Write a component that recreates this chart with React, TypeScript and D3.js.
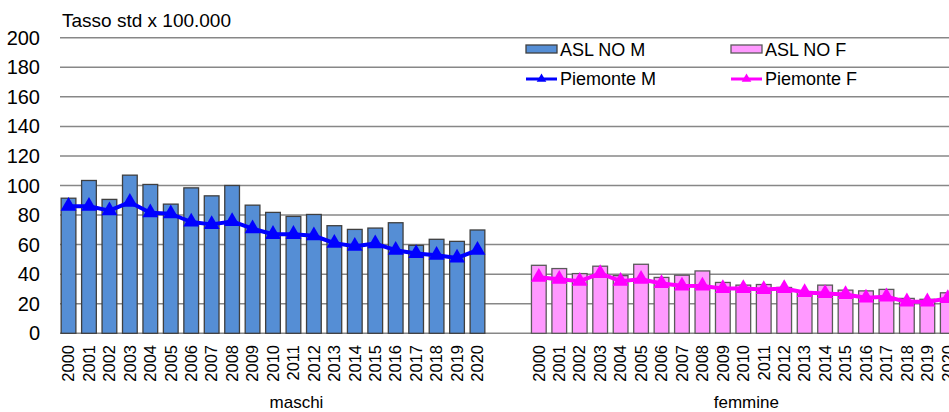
import React from 'react';
import { scaleBand, scaleLinear, line, symbol, symbolTriangle } from 'd3';

const years = ['2000', '2001', '2002', '2003', '2004', '2005', '2006', '2007', '2008', '2009', '2010',
  '2011', '2012', '2013', '2014', '2015', '2016', '2017', '2018', '2019', '2020'];
const groups = ['maschi', 'femmine'];
const yTicks = [0, 20, 40, 60, 80, 100, 120, 140, 160, 180, 200];

// ASL NO (bars) and Piemonte (lines), tasso std x 100.000
const aslM = [91.4, 103.4, 90.6, 107, 100.7, 87.4, 98.4, 93, 100, 86.7, 81.8, 79.1, 80.4, 72.8, 70.3, 71.2, 74.8, 59.5, 63.6, 62.2, 69.9];
const pieM = [86, 86, 83, 88.7, 81.6, 80.9, 75.3, 73.7, 75.7, 70.8, 67, 67, 66, 61, 58.9, 60.7, 56.2, 54, 52.8, 51, 56.2];
const aslF = [46, 43.8, 40.4, 45.4, 39, 46.7, 37.8, 39.3, 42.2, 34.4, 32.6, 33, 31, 28, 32.6, 29.2, 28.7, 29.7, 23.6, 23, 27.4];
const pieF = [38, 36.6, 35.3, 40.5, 35.3, 36.6, 33.7, 32.1, 32, 30.3, 30.3, 29.7, 30.3, 27.6, 27, 26.3, 24, 24.7, 21.3, 21.3, 23.6];

const FONT = '"Liberation Sans", Arial, sans-serif';
const BLUE_BAR = '#558ED5';
const PINK_BAR = '#FF99FF';
const BLUE = '#0000FF';
const MAGENTA = '#FF00FF';
const GRID = '#878787';

const App = () => {
  const W = 949;
  const H = 412;
  const left = 58.3;
  const right = 958;

  // maschi years, two blank slots, femmine years
  const slots = [...years.map((y) => 'M' + y), 'gap1', 'gap2', ...years.map((y) => 'F' + y)];
  const x = scaleBand().domain(slots).range([left, right]).paddingInner(0.28).paddingOuter(0.14);
  const y = scaleLinear().domain([0, 200]).range([333.3, 37.7]);
  const bw = x.bandwidth();
  const cx = (k: string) => (x(k) as number) + bw / 2;

  const lineGen = line<[number, number]>().x((d) => d[0]).y((d) => d[1]);
  const tri = symbol().type(symbolTriangle).size(110)() as string;
  const triSmall = symbol().type(symbolTriangle).size(40)() as string;

  const series = [
    { prefix: 'M', bars: aslM, pts: pieM, fill: BLUE_BAR, stroke: '#3F3F3F', color: BLUE },
    { prefix: 'F', bars: aslF, pts: pieF, fill: PINK_BAR, stroke: '#5A5A5A', color: MAGENTA },
  ];

  const groupCenter = (keys: string[]) =>
    ((x(keys[0]) as number) + (x(keys[keys.length - 1]) as number) + bw) / 2 + 3;
  const groupLabelX = [
    groupCenter([...years.map((yr) => 'M' + yr), 'gap1', 'gap2']),
    groupCenter(years.map((yr) => 'F' + yr)),
  ];

  const legend = [
    { label: 'ASL NO M', kind: 'bar', fill: BLUE_BAR, stroke: '#3F3F3F', lx: 526, ly: 49 },
    { label: 'ASL NO F', kind: 'bar', fill: PINK_BAR, stroke: '#5A5A5A', lx: 731, ly: 49 },
    { label: 'Piemonte M', kind: 'line', fill: BLUE, stroke: BLUE, lx: 526, ly: 79 },
    { label: 'Piemonte F', kind: 'line', fill: MAGENTA, stroke: MAGENTA, lx: 731, ly: 79 },
  ];

  return (
    <svg width={W} height={H} style={{ position: 'absolute', left: 0, top: 0, background: '#fff' }} fontFamily={FONT}>
      <rect x={0} y={0} width={W} height={H} fill='#fff' />
      <text x={62} y={27.3} fontSize={19} fill='#000'>Tasso std x 100.000</text>

      {/* gridlines + y ticks */}
      {yTicks.map((t) => (
        <g key={t}>
          <line x1={60} x2={right} y1={y(t)} y2={y(t)} stroke={GRID} strokeWidth={1.5} />
          <text x={40} y={y(t)} dy='0.35em' textAnchor='end' fontSize={20} fill='#000'>{t}</text>
        </g>
      ))}

      {/* legend */}
      {legend.map((l) => (
        <g key={l.label}>
          {l.kind === 'bar' ? (
            <rect x={l.lx} y={l.ly - 4} width={31} height={8} fill={l.fill} stroke={l.stroke} strokeWidth={1.3} />
          ) : (
            <g>
              <line x1={l.lx} x2={l.lx + 31} y1={l.ly} y2={l.ly} stroke={l.stroke} strokeWidth={3} />
              <path d={triSmall} transform={`translate(${l.lx + 15.5},${l.ly})`} fill={l.fill} />
            </g>
          )}
          <text x={l.lx + 34} y={l.ly + (l.kind === 'bar' ? 6.7 : 5.5)} fontSize={18} fill='#000'>{l.label}</text>
        </g>
      ))}

      {/* bars */}
      {series.map((s) =>
        s.bars.map((v, i) => {
          const k = s.prefix + years[i];
          return (
            <rect key={k} x={x(k)} y={y(v)} width={bw} height={y(0) - y(v)}
              fill={s.fill} stroke={s.stroke} strokeWidth={1.3} />
          );
        })
      )}

      {/* lines with triangle markers */}
      {series.map((s) => {
        const pts: [number, number][] = s.pts.map((v, i) => [cx(s.prefix + years[i]), y(v)]);
        return (
          <g key={s.prefix + 'line'}>
            <path d={lineGen(pts) as string} fill='none' stroke={s.color} strokeWidth={4} strokeLinejoin='round' />
            {pts.map((p, i) => (
              <path key={i} d={tri} transform={`translate(${p[0]},${p[1]})`} fill={s.color} />
            ))}
          </g>
        );
      })}

      {/* x tick labels */}
      {slots.filter((k) => !k.startsWith('gap')).map((k) => (
        <text key={k} transform={`translate(${cx(k)},345) rotate(-90)`} dy='0.35em'
          textAnchor='end' fontSize={16.5} fill='#000'>{k.slice(1)}</text>
      ))}

      {/* group labels */}
      {groups.map((g, i) => (
        <text key={g} x={groupLabelX[i]} y={408.3} textAnchor='middle' fontSize={17} fill='#000'>{g}</text>
      ))}
    </svg>
  );
};

export default App;
